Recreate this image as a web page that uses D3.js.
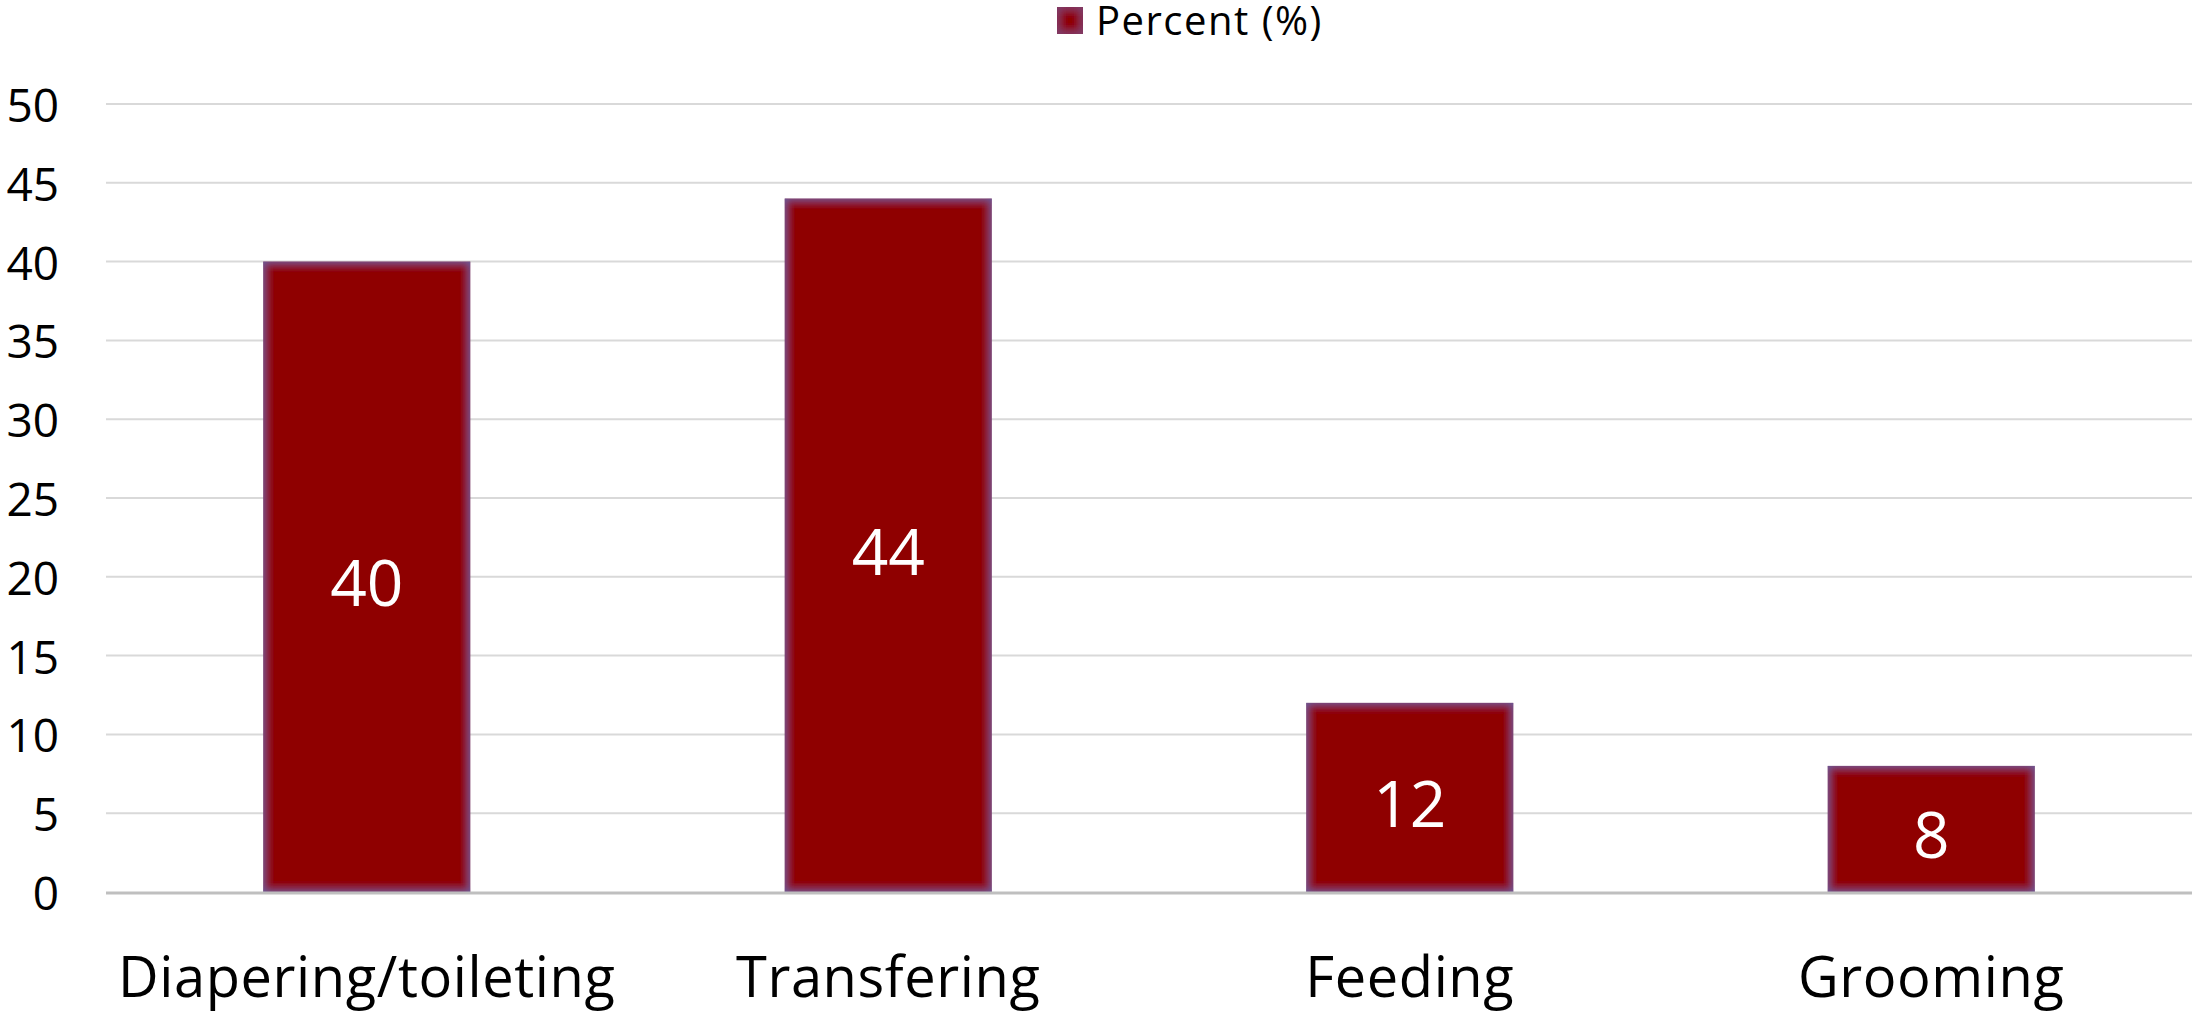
<!DOCTYPE html>
<html>
<head>
<meta charset="utf-8">
<script src="https://cdn.jsdelivr.net/npm/d3@7"></script>
<style>
  html, body { margin: 0; padding: 0; background: #fff; }
  svg { display: block; }
  text { font-family: "Open Sans", "Noto Sans", sans-serif; }
</style>
</head>
<body>
<div id="chart"></div>
<script>
// chart data
const categories = ["Diapering/toileting", "Transfering", "Feeding", "Grooming"];
const percentValues = [40, 44, 12, 8];
const seriesName = "Percent (%)";
const yTicks = [0, 5, 10, 15, 20, 25, 30, 35, 40, 45, 50];

const width = 2195, height = 1012;
const margin = { top: 104, right: 3, bottom: 120, left: 106 };

const svg = d3.select("#chart")
  .append("svg")
  .attr("width", width)
  .attr("height", height);

// inner glow on the bars (bluish edge)
const defs = svg.append("defs");
const f = defs.append("filter").attr("id", "glow")
  .attr("x", "-10%").attr("y", "-10%").attr("width", "120%").attr("height", "120%");
f.append("feFlood").attr("flood-color", "#5d63a8").attr("result", "flood");
f.append("feComposite").attr("in", "flood").attr("in2", "SourceAlpha").attr("operator", "out").attr("result", "outside");
f.append("feGaussianBlur").attr("in", "outside").attr("stdDeviation", 5).attr("result", "blur");
f.append("feComposite").attr("in", "blur").attr("in2", "SourceAlpha").attr("operator", "in").attr("result", "inner");
const merge = f.append("feMerge");
merge.append("feMergeNode").attr("in", "SourceGraphic");
merge.append("feMergeNode").attr("in", "inner");

const x = d3.scaleBand()
  .domain(categories)
  .range([margin.left, width - margin.right])
  .paddingInner(0.603)
  .paddingOuter(0.3015);

const y = d3.scaleLinear()
  .domain([0, 50])
  .range([892, margin.top]);

// gridlines
svg.append("g")
  .selectAll("line")
  .data(yTicks.filter(d => d > 0))
  .join("line")
  .attr("x1", margin.left)
  .attr("x2", width - margin.right)
  .attr("y1", d => y(d))
  .attr("y2", d => y(d))
  .attr("stroke", "#d9d9d9")
  .attr("stroke-width", 2);

// y tick labels
svg.append("g")
  .selectAll("text")
  .data(yTicks)
  .join("text")
  .attr("x", 59)
  .attr("y", d => y(d))
  .attr("text-anchor", "end")
  .attr("dominant-baseline", "central")
  .attr("font-size", 46)
  .attr("fill", "#000")
  .text(d => d);

// bars
svg.append("g")
  .selectAll("rect")
  .data(percentValues)
  .join("rect")
  .attr("x", (d, i) => x(categories[i]))
  .attr("width", x.bandwidth())
  .attr("y", d => y(d))
  .attr("height", d => y(0) - y(d))
  .attr("fill", "#8f0000")
  .attr("filter", "url(#glow)");

// baseline
svg.append("line")
  .attr("x1", margin.left)
  .attr("x2", width - margin.right)
  .attr("y1", y(0) + 1)
  .attr("y2", y(0) + 1)
  .attr("stroke", "#bfbfbf")
  .attr("stroke-width", 3);

// value labels
svg.append("g")
  .selectAll("text")
  .data(percentValues)
  .join("text")
  .attr("x", (d, i) => x(categories[i]) + x.bandwidth() / 2)
  .attr("y", d => (y(d) + y(0)) / 2 + 5)
  .attr("text-anchor", "middle")
  .attr("dominant-baseline", "central")
  .attr("font-size", 64)
  .attr("fill", "#fff")
  .text(d => d);

// x labels
svg.append("g")
  .selectAll("text")
  .data(categories)
  .join("text")
  .attr("x", d => x(d) + x.bandwidth() / 2)
  .attr("y", 975)
  .attr("text-anchor", "middle")
  .attr("dominant-baseline", "central")
  .attr("font-size", 56)
  .attr("letter-spacing", 0.6)
  .attr("fill", "#000")
  .text(d => d);

// legend
const legend = svg.append("g");
legend.append("rect")
  .attr("x", 1057).attr("y", 7)
  .attr("width", 26).attr("height", 27)
  .attr("fill", "#8f0000")
  .attr("filter", "url(#glow)");
legend.append("text")
  .attr("x", 1096)
  .attr("y", 35)
  .attr("font-size", 40)
  .attr("letter-spacing", 1.5)
  .attr("fill", "#000")
  .text(seriesName);
</script>
</body>
</html>
